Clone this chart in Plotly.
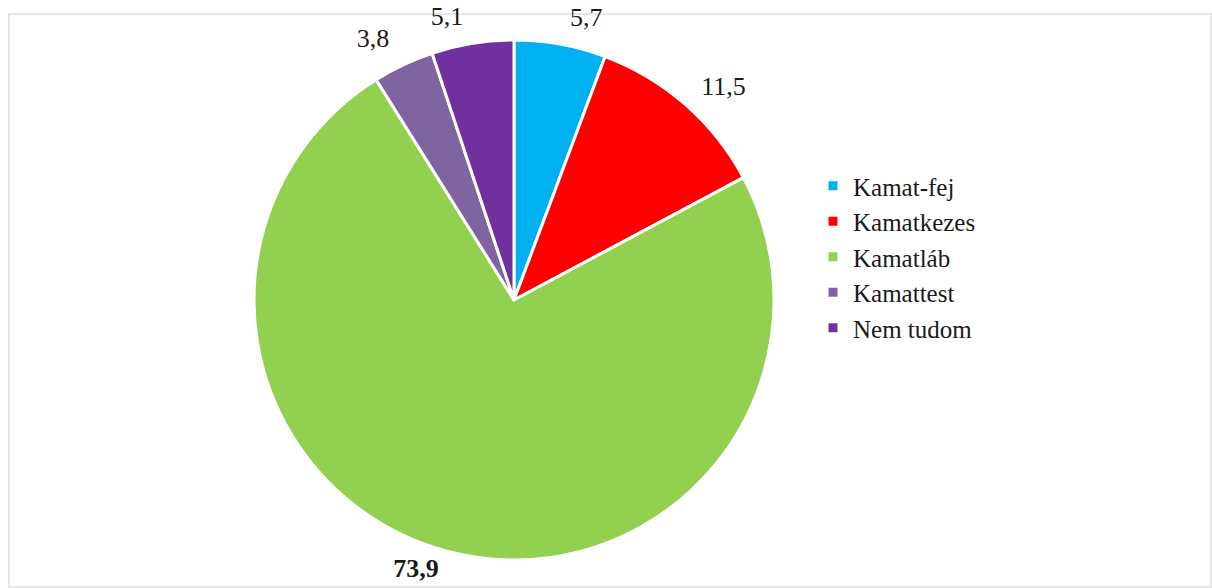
import plotly.graph_objects as go

categories = ["Kamat-fej", "Kamatkezes", "Kamatláb", "Kamattest", "Nem tudom"]
values = [5.7, 11.5, 73.9, 3.8, 5.1]
labels_text = ["5,7", "11,5", "<b>73,9</b>", "3,8", "5,1"]
colors = ["#00B0F0", "#FF0000", "#92D050", "#8064A2", "#7030A0"]

W, H = 1212, 588
cx, cy, r = 514, 300, 260
FONT = "Liberation Serif"
FS_LAB = 26
FS_LEG = 25


def dom(rad):
    return dict(x=[(cx - rad) / W, (cx + rad) / W], y=[1 - (cy + rad) / H, 1 - (cy - rad) / H])


# visible pie
pie = go.Pie(
    labels=categories,
    values=values,
    textinfo="none",
    sort=False,
    direction="clockwise",
    rotation=0,
    marker=dict(colors=colors, line=dict(color="white", width=3)),
    hoverinfo="label+value",
    domain=dom(r),
)


def label_pie(keep, rad):
    # transparent twin pie that only carries some of the outside value labels
    txt = [t if i in keep else "" for i, t in enumerate(labels_text)]
    return go.Pie(
        labels=categories,
        values=values,
        text=txt,
        textinfo="text",
        textposition="outside",
        sort=False,
        direction="clockwise",
        rotation=0,
        showlegend=False,
        marker=dict(colors=["rgba(0,0,0,0)"] * len(values), line=dict(width=0)),
        textfont=dict(family=FONT, size=FS_LAB, color="#1a1a1a"),
        hoverinfo="skip",
        domain=dom(rad),
    )


fig = go.Figure([label_pie({0, 1, 4}, 273), label_pie({3}, 276), label_pie({2}, 264), pie])

fig.update_layout(
    width=W, height=H,
    margin=dict(l=0, r=0, t=0, b=0, autoexpand=False),
    paper_bgcolor="white",
    font=dict(family=FONT, size=FS_LEG, color="#1a1a1a"),
    showlegend=True,
    legend=dict(x=813 / W, y=1 - 163 / H, xanchor="left", yanchor="top",
                font=dict(family=FONT, size=FS_LEG, color="#1a1a1a"),
                itemwidth=30, bgcolor="rgba(0,0,0,0)", traceorder="normal"),
    shapes=[dict(type="rect", xref="paper", yref="paper",
                 x0=9 / W, x1=1211 / W, y0=1 - 587 / H, y1=1 - 14 / H,
                 line=dict(color="#e6e6e6", width=2), layer="below")],
)

fig.write_html("out.html", config={"displayModeBar": False},
               post_script="document.body.style.margin='0';document.body.style.overflow='hidden';")
